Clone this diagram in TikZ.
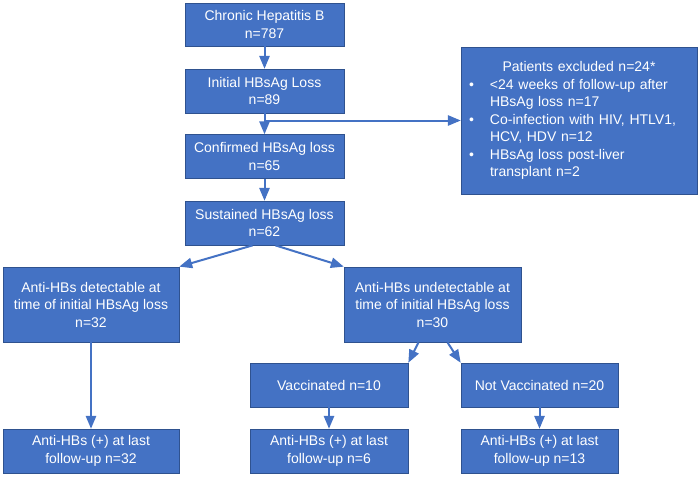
\documentclass[tikz,border=0pt]{standalone}
\usepackage{xcolor}
\usepackage{fontspec}
\setmainfont{Liberation Sans}
\usepackage{tikz}
\usetikzlibrary{positioning, arrows}
\definecolor{boxblue}{HTML}{4472C4}
\definecolor{boxedge}{HTML}{2F528F}
\tikzset{
	flowbox/.style={rectangle, fill=boxblue, draw=boxedge, line width=0.8pt,
	text=white, align=center, inner sep=2pt,
	font=\fontsize{14}{17.5}\selectfont}
}
\tikzset{
	flowarrow/.style={-triangle 45, draw=boxblue, line width=2pt}
}
% one bullet over two lines
\newcommand{\exitem}[2]{\par\noindent\makebox[21pt][l]{\textbullet}#1\par\noindent\hspace*{21pt}#2}

\begin{document}
\begin{tikzpicture}[x=1pt, y=-1pt]

		\useasboundingbox (0,0) rectangle (700,476);

		% main column
		\node[flowbox, minimum width=159pt, minimum height=43pt] (chronic) at (264.5,24.5) {Chronic Hepatitis B\\n=787};
		\node[flowbox, minimum width=159pt, minimum height=44pt] (initial) at (264.5,91) {Initial HBsAg Loss\\n=89};
		\node[flowbox, minimum width=159pt, minimum height=44pt] (confirmed) at (264.5,156.5) {Confirmed HBsAg loss\\n=65};
		\node[flowbox, minimum width=159pt, minimum height=44pt] (sustained) at (264.5,223) {Sustained HBsAg loss\\n=62};

		% excluded patients
		\node[flowbox, minimum width=236pt, minimum height=147pt, text width=220pt, inner xsep=8pt, align=left] (excluded) at (579,120.5) {%
		\centering Patients excluded n=24*\par\raggedright
		\exitem{<24 weeks of follow-up after}{HBsAg loss n=17}
		\exitem{Co-infection with HIV, HTLV1,}{HCV, HDV n=12}
		\exitem{HBsAg loss post-liver}{transplant n=2}};

		% anti-HBs at time of loss
		\node[flowbox, minimum width=176pt, minimum height=75pt] (detect) at (91,304.5) {Anti-HBs detectable at\\time of initial HBsAg loss\\n=32};
		\node[flowbox, minimum width=177pt, minimum height=75pt] (undetect) at (432.5,304.5) {Anti-HBs undetectable at\\time of initial HBsAg loss\\n=30};

		% vaccination
		\node[flowbox, minimum width=158pt, minimum height=44pt] (vacc) at (329,385) {Vaccinated n=10};
		\node[flowbox, minimum width=157pt, minimum height=44pt] (novacc) at (539.5,385) {Not Vaccinated n=20};

		% last follow-up
		\node[flowbox, minimum width=176pt, minimum height=44pt] (lastdetect) at (91,451) {Anti-HBs (+) at last\\follow-up n=32};
		\node[flowbox, minimum width=158pt, minimum height=44pt] (lastvacc) at (329,451) {Anti-HBs (+) at last\\follow-up n=6};
		\node[flowbox, minimum width=157pt, minimum height=44pt] (lastnovacc) at (539.5,451) {Anti-HBs (+) at last\\follow-up n=13};

		% connectors
		\draw[flowarrow] (chronic) -- (initial);
		\draw[flowarrow] (initial) -- (confirmed);
		\draw[flowarrow] (initial.south |- excluded.west) -- (excluded.west);
		\draw[flowarrow] (confirmed) -- (sustained);

		\draw[flowarrow] ([xshift=-12pt]sustained.south) -- (detect.north east);
		\draw[flowarrow] ([xshift=11pt]sustained.south) -- (undetect.north west);

		\draw[flowarrow] ([xshift=-14pt]undetect.south) -- (vacc.north east);
		\draw[flowarrow] ([xshift=15pt]undetect.south) -- (novacc.north west);

		\draw[flowarrow] (detect) -- (lastdetect);
		\draw[flowarrow] (vacc) -- (lastvacc);
		\draw[flowarrow] (novacc) -- (lastnovacc);

	\end{tikzpicture}
\end{document}
